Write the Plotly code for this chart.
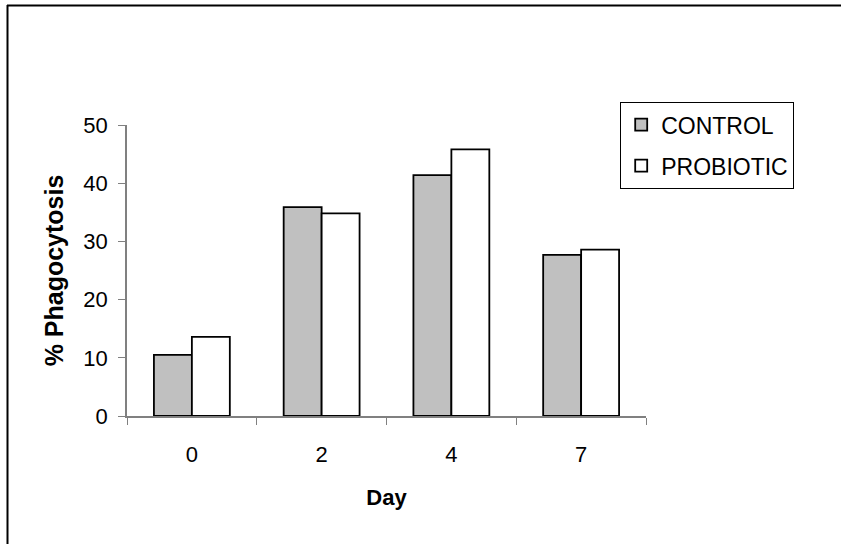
import plotly.graph_objects as go

days = ["0", "2", "4", "7"]
control = [10.5, 35.9, 41.4, 27.7]
probiotic = [13.6, 34.8, 45.8, 28.6]
series_names = ["CONTROL", "PROBIOTIC"]
y_ticks = [0, 10, 20, 30, 40, 50]

W, H = 841, 544
L, R, T, B = 127, 195, 125, 128
pw, ph = W - L - R, H - T - B

def px(x):
    return (x - L) / pw

def py(y):
    return (H - B - y) / ph

fig = go.Figure()
fig.add_trace(go.Bar(x=days, y=control, name=series_names[0], legendgroup="a",
                     marker=dict(color="#C0C0C0", line=dict(color="black", width=1.8))))
fig.add_trace(go.Bar(x=days, y=probiotic, name=series_names[1], legendgroup="b",
                     marker=dict(color="white", line=dict(color="black", width=1.8))))

font = "Liberation Sans, Arial, sans-serif"
fig.update_layout(
    width=W, height=H,
    margin=dict(l=L, r=R, t=T, b=B),
    paper_bgcolor="white", plot_bgcolor="white",
    barmode="group", bargap=0.415, bargroupgap=0,
    font=dict(family=font, size=22, color="black"),
    showlegend=True,
    legend=dict(x=px(620), y=py(102), xanchor="left", yanchor="top",
                bordercolor="black", borderwidth=1.2, bgcolor="white",
                font=dict(size=23), traceorder="grouped", tracegroupgap=8,
                itemwidth=30),
    xaxis=dict(type="category", showline=True, linecolor="#808080", linewidth=1.5,
               ticks="outside", tickson="boundaries", ticklen=7, tickcolor="#808080",
               tickwidth=1.2, showgrid=False, zeroline=False,
               tickfont=dict(size=22), ticklabelstandoff=18,
               title=dict(text="<b>Day</b>", font=dict(size=22), standoff=23)),
    yaxis=dict(range=[0, 50], tickvals=y_ticks, showline=True, linecolor="#808080",
               linewidth=1.5, ticks="outside", ticklen=7, tickcolor="#808080",
               tickwidth=1.2, showgrid=False, zeroline=False,
               tickfont=dict(size=22), ticklabelstandoff=6,
               title=dict(text="<b>% Phagocytosis</b>", font=dict(size=25), standoff=13)),
    shapes=[
        dict(type="line", xref="paper", yref="paper", x0=px(7), x1=px(845), y0=py(5.5), y1=py(5.5),
             line=dict(color="black", width=2)),
        dict(type="line", xref="paper", yref="paper", x0=px(7.5), x1=px(7.5), y0=py(5), y1=py(548),
             line=dict(color="black", width=2)),
    ],
)

fig.write_html("out.html")
